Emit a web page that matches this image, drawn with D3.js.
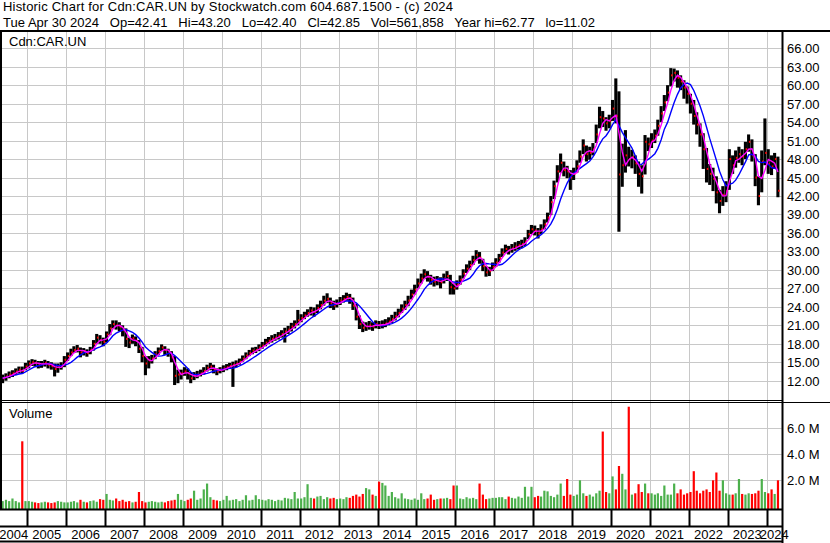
<!DOCTYPE html>
<html>
<head>
<meta charset="utf-8">
<script src="https://cdnjs.cloudflare.com/ajax/libs/d3/7.8.5/d3.min.js"></script>
<style>
  body { margin: 0; background: #fff; }
  svg text { font-family: "Liberation Sans", Arial, sans-serif; font-size: 13px; fill: #000; white-space: pre; }
</style>
</head>
<body>
<div id="chart"></div>
<script>
// frame
const WIDTH = 830, HEIGHT = 543;
const PRICE = {left: 0, right: 781.7, top: 31, bottom: 400};
const VOL = {top: 403, bottom: 509};

// monthly bars, May 2004 .. Apr 2024
const high = [
  13.0, 13.2, 13.5, 13.7, 14.0, 14.3, 14.3, 14.9,
  15.3, 15.5, 15.4, 15.2, 15.2, 15.4, 15.2, 15.0, 14.8, 14.8, 15.0, 16.0,
  16.6, 17.2, 17.6, 17.8, 17.4, 17.3, 17.1, 17.5, 18.6, 19.6, 19.4, 19.0,
  20.0, 21.2, 21.8, 21.8, 21.5, 21.0, 20.5, 19.0, 19.5, 19.2, 18.6, 17.5,
  16.0, 16.0, 16.2, 16.8, 17.4, 17.9, 17.6, 17.2, 16.8, 16.0, 13.8, 13.8,
  14.2, 14.0, 13.4, 13.4, 13.6, 13.8, 14.2, 14.6, 14.9, 14.6, 14.0, 14.2,
  14.5, 14.7, 14.9, 15.1, 15.3, 15.6, 16.1, 16.6, 17.0, 17.4, 17.5, 17.9,
  18.3, 18.8, 19.1, 19.4, 19.6, 19.9, 20.2, 20.6, 20.9, 21.4, 21.8, 23.5,
  22.8, 23.2, 23.6, 24.0, 23.9, 24.4, 25.0, 25.8, 26.2, 25.5, 25.0, 25.2,
  25.6, 25.9, 26.3, 26.1, 25.5, 24.5, 22.6, 21.6, 21.5, 21.7, 21.5, 21.8,
  21.7, 21.8, 22.0, 22.3, 22.7, 23.2, 23.7, 24.4, 25.0, 25.8, 26.8, 27.6,
  28.6, 29.4, 30.1, 29.8, 29.2, 28.9, 29.0, 28.8, 29.4, 29.8, 29.2, 27.8,
  28.3, 29.1, 30.1, 30.9, 31.5, 32.3, 33.2, 32.9, 31.8, 30.6, 30.5, 31.2,
  31.9, 32.6, 33.5, 34.1, 33.9, 34.2, 34.5, 34.7, 34.9, 35.3, 36.5, 37.3,
  37.2, 36.8, 37.4, 38.2, 39.3, 42.0, 44.5, 47.0, 48.9, 47.6, 46.9, 46.2,
  46.6, 47.8, 49.4, 51.2, 50.2, 50.0, 50.6, 53.6, 56.5, 55.8, 54.8, 55.2,
  57.6, 61.1, 59.0, 50.5, 52.7, 50.0, 49.5, 48.6, 47.6, 47.0, 51.9, 51.5,
  52.2, 52.8, 54.4, 56.6, 58.4, 60.0, 62.77, 62.7, 62.4, 61.6, 60.8, 59.8,
  58.6, 57.6, 55.6, 53.8, 52.2, 49.8, 47.2, 46.6, 45.2, 43.0, 43.6, 44.4,
  49.6, 48.6, 49.4, 50.0, 49.6, 50.8, 52.0, 51.2, 48.8, 45.2, 49.4, 54.6,
  49.6, 48.6, 49.0, 48.4
];
const low = [
  11.6, 12.0, 12.4, 12.6, 12.9, 13.2, 13.2, 13.7,
  14.0, 14.4, 14.3, 14.0, 14.1, 14.3, 14.0, 13.8, 12.7, 13.3, 13.8, 14.2,
  15.2, 16.0, 16.5, 16.6, 15.8, 16.1, 15.9, 16.3, 16.9, 18.0, 18.0, 17.6,
  18.2, 19.4, 20.5, 20.3, 20.0, 19.2, 17.5, 17.3, 18.0, 17.6, 16.5, 15.0,
  12.9, 14.0, 14.8, 15.5, 16.2, 16.8, 16.2, 15.9, 15.0, 11.3, 11.6, 12.2,
  12.8, 12.2, 11.6, 12.1, 12.4, 12.7, 13.0, 13.5, 13.7, 13.2, 12.9, 13.2,
  13.4, 13.7, 13.9, 11.0, 14.2, 14.6, 15.1, 15.5, 16.0, 16.3, 16.5, 16.8,
  17.2, 17.6, 18.0, 18.2, 18.5, 18.7, 19.0, 18.2, 19.6, 20.0, 20.5, 21.0,
  21.5, 22.0, 22.4, 22.6, 22.4, 23.0, 23.6, 24.2, 24.6, 23.8, 23.5, 23.9,
  24.3, 24.7, 25.0, 24.5, 23.5, 21.8, 20.4, 19.9, 20.1, 20.3, 20.1, 20.5,
  20.4, 20.5, 20.7, 21.0, 21.4, 21.8, 22.3, 23.0, 23.5, 24.1, 25.2, 26.0,
  27.0, 27.8, 28.5, 28.1, 27.6, 27.3, 27.5, 27.0, 27.8, 28.2, 26.0, 26.0,
  26.8, 27.6, 28.6, 29.5, 30.0, 30.8, 31.5, 31.0, 29.8, 28.9, 29.0, 29.8,
  30.5, 31.2, 32.1, 32.7, 32.5, 32.8, 33.1, 33.3, 33.5, 33.9, 35.0, 35.8,
  35.6, 35.1, 35.8, 36.6, 37.7, 38.9, 41.5, 44.2, 45.8, 45.2, 44.9, 43.0,
  44.6, 45.8, 47.4, 48.8, 47.6, 47.9, 48.6, 50.6, 53.0, 53.2, 52.6, 53.0,
  54.2, 53.8, 36.2, 43.5, 45.8, 46.8, 46.5, 45.6, 43.5, 42.4, 45.5, 49.3,
  49.8, 50.6, 51.8, 54.0, 55.8, 57.4, 59.8, 60.6, 59.6, 59.2, 57.8, 57.0,
  55.4, 53.6, 52.0, 50.0, 46.4, 44.2, 43.8, 42.8, 40.8, 39.2, 40.4, 41.0,
  43.0, 45.6, 46.6, 47.4, 47.0, 48.0, 49.2, 47.6, 43.6, 40.5, 42.6, 47.0,
  45.6, 45.4, 46.4, 41.8
];
const close = [
  12.4, 12.7, 13.0, 13.2, 13.5, 13.8, 13.6, 14.3,
  14.8, 15.0, 14.9, 14.6, 14.7, 14.9, 14.6, 14.4, 13.9, 14.2, 14.4, 15.4,
  16.0, 16.6, 17.0, 17.2, 16.6, 16.8, 16.5, 17.0, 18.0, 19.0, 18.6, 18.3,
  19.5, 20.5, 21.2, 21.0, 20.8, 20.2, 18.8, 18.2, 18.9, 18.5, 17.2, 16.0,
  14.8, 15.3, 15.6, 16.3, 16.8, 17.4, 17.0, 16.5, 15.8, 12.8, 13.0, 13.2,
  13.5, 13.2, 12.4, 12.8, 13.0, 13.2, 13.6, 14.1, 14.3, 13.8, 13.5, 13.8,
  14.0, 14.2, 14.4, 14.6, 14.8, 15.1, 15.6, 16.1, 16.5, 16.9, 17.0, 17.4,
  17.7, 18.2, 18.5, 18.8, 19.0, 19.3, 19.6, 20.0, 20.3, 20.8, 21.2, 21.8,
  22.2, 22.6, 23.0, 23.4, 23.2, 23.8, 24.3, 25.0, 25.3, 24.6, 24.2, 24.6,
  25.0, 25.3, 25.6, 25.4, 24.2, 22.4, 21.2, 20.6, 20.8, 21.0, 20.8, 21.2,
  21.0, 21.1, 21.3, 21.6, 22.0, 22.5, 23.0, 23.7, 24.3, 25.0, 26.0, 26.8,
  27.8, 28.6, 29.3, 28.9, 28.4, 28.1, 28.3, 28.0, 28.6, 29.0, 27.2, 27.0,
  27.6, 28.4, 29.4, 30.2, 30.8, 31.6, 32.4, 32.0, 30.6, 29.6, 29.8, 30.5,
  31.2, 31.9, 32.8, 33.4, 33.2, 33.5, 33.8, 34.0, 34.2, 34.6, 35.8, 36.6,
  36.4, 35.9, 36.6, 37.4, 38.5, 41.0, 43.6, 46.0, 47.4, 46.2, 46.0, 45.0,
  45.6, 46.8, 48.4, 50.2, 48.8, 49.0, 49.6, 52.0, 54.8, 54.6, 53.8, 54.2,
  56.2, 55.0, 45.5, 47.0, 48.6, 48.0, 48.3, 47.3, 45.6, 45.2, 50.8, 50.4,
  51.0, 51.8, 53.4, 55.4, 57.2, 58.8, 61.6, 62.0, 61.2, 60.6, 59.6, 58.6,
  57.0, 55.0, 53.6, 52.0, 49.6, 46.4, 45.6, 44.8, 42.6, 41.2, 42.2, 42.8,
  48.0, 47.0, 48.2, 48.8, 48.4, 49.6, 50.8, 48.6, 45.0, 42.0, 47.6, 49.0,
  47.2, 46.8, 48.0, 42.85
];
// volume in millions of shares
const volume = [
  0.4, 0.5, 0.4, 0.6, 0.4, 0.3, 5.0, 0.4,
  0.4, 0.35, 0.3, 0.25, 0.3, 0.35, 0.3, 0.25, 0.3, 0.4, 0.35, 0.3,
  0.3, 0.35, 0.4, 0.3, 0.5, 0.35, 0.3, 0.4, 0.45, 0.35, 0.55, 0.5,
  0.95, 0.5, 0.45, 0.6, 0.4, 0.5, 0.35, 0.4, 0.3, 0.35, 1.1, 0.4,
  0.3, 0.35, 0.4, 0.35, 0.3, 0.35, 0.3, 0.4, 0.45, 0.5, 0.95, 0.5,
  0.4, 0.5, 0.6, 1.2, 0.5, 0.6, 1.3, 1.75, 0.7, 0.5, 0.45, 0.4,
  0.5, 0.8, 0.45, 0.5, 0.55, 0.4, 0.5, 0.85, 0.45, 0.5, 0.85, 0.55,
  0.5, 0.45, 0.55, 0.5, 0.4, 0.5, 0.45, 0.65, 0.6, 0.55, 1.1, 0.6,
  0.6, 0.7, 1.7, 0.65, 0.6, 0.75, 0.8, 0.55, 0.7, 0.6, 0.65, 0.55,
  0.6, 0.55, 0.7, 0.65, 0.8, 0.9, 0.75, 0.95, 1.4, 1.3, 0.9, 0.8,
  1.9, 1.8, 1.6, 0.8, 1.1, 0.7, 0.6, 1.0, 0.6, 0.55, 0.5, 0.6,
  0.5, 1.0, 0.55, 0.6, 0.9, 0.5, 0.55, 0.6, 0.6, 0.65, 0.55, 1.6,
  1.6, 0.6, 0.55, 0.7, 0.6, 0.65, 0.55, 1.75, 0.9, 0.55, 0.6, 0.65,
  0.65, 0.7, 0.7, 0.55, 0.75, 0.65, 0.6, 0.75, 0.65, 1.5, 0.75, 1.5,
  0.7, 0.8, 0.75, 1.2, 1.15, 0.8, 0.7, 0.9, 1.75, 0.8, 2.1, 0.9,
  0.8, 0.9, 2.0, 1.0, 0.8, 0.9, 0.75, 1.0, 1.2, 5.75, 1.1, 1.0,
  2.3, 1.3, 3.1, 2.5, 1.3, 7.66, 0.9, 1.0, 1.7, 1.1, 1.75, 1.0,
  1.0, 0.9, 1.0, 0.8, 1.6, 0.9, 0.9, 1.75, 1.0, 1.3, 0.9, 1.0,
  1.1, 2.7, 1.2, 1.0, 1.2, 1.3, 1.1, 2.0, 2.6, 1.2, 2.0, 1.0,
  0.9, 0.9, 1.0, 2.1, 0.95, 0.9, 1.0, 0.95, 1.0, 1.2, 2.1, 1.1,
  1.0, 1.3, 0.95, 2.0
];

const priceTicks = [12, 15, 18, 21, 24, 27, 30, 33, 36, 39, 42, 45, 48, 51, 54, 57, 60, 63, 66];
const volTicks = [2, 4, 6];
const yearLabels = d3.range(2004, 2025);
const header1 = "Historic Chart for Cdn:CAR.UN by Stockwatch.com 604.687.1500 - (c) 2024";
const header2 = "Tue Apr 30 2024   Op=42.41   Hi=43.20   Lo=42.40   Cl=42.85   Vol=561,858   Year hi=62.77   lo=11.02";

const bars = close.map((c, i) => ({
  date: new Date(2004, 4 + i, 15),
  high: high[i], low: low[i], close: c, vol: volume[i],
  up: i == 0 ? true : c >= close[i - 1]
}));

// moving averages of the closes (short = magenta, long = blue)
function movingAvg(n) {
  return bars.map((d, i) => ({date: d.date, v: d3.mean(close.slice(Math.max(0, i - n + 1), i + 1))}));
}
const maShort = movingAvg(3);
const maLong = movingAvg(7);

// scales
const x = d3.scaleTime()
  .domain([new Date(2004, 3, 20), new Date(2024, 4, 20)])
  .range([PRICE.left, PRICE.right]);
const y = d3.scaleLinear().domain([8.87, 68.8]).range([PRICE.bottom, PRICE.top]);
const yv = d3.scaleLinear().domain([0, 8]).range([506.3, 402.3]);

const svg = d3.select('#chart').append('svg')
  .attr('width', WIDTH).attr('height', HEIGHT);

// header text, spread out to the width of the original's wider system font
function stretched(txt, ty, width) {
  const t = svg.append('text').attr('x', 3).attr('y', ty).text(txt);
  const w = t.node().getComputedTextLength();
  t.style('letter-spacing', ((width - w) / (txt.length - 1)) + 'px');
}
stretched(header1, 11, 450);
stretched(header2, 26.5, 592);

// grid
const yearLines = d3.timeYear.range(new Date(2005, 0, 1), new Date(2024, 0, 2));
const grid = svg.append('g').attr('stroke', '#c8c8c8').attr('stroke-width', 1);
grid.selectAll('.hp').data(priceTicks).join('line')
  .attr('x1', 0).attr('x2', PRICE.right)
  .attr('y1', d => Math.round(y(d)) + 0.5).attr('y2', d => Math.round(y(d)) + 0.5);
grid.selectAll('.hv').data(volTicks).join('line')
  .attr('x1', 0).attr('x2', PRICE.right)
  .attr('y1', d => Math.round(yv(d)) + 0.5).attr('y2', d => Math.round(yv(d)) + 0.5);
grid.selectAll('.vp').data(yearLines).join('line')
  .attr('x1', d => Math.round(x(d)) + 0.5).attr('x2', d => Math.round(x(d)) + 0.5)
  .attr('y1', PRICE.top).attr('y2', VOL.bottom);

// price bars (high-low in black, close tick in red)
svg.append('g').selectAll('rect').data(bars).join('rect')
  .attr('x', d => x(d.date) - 1.6).attr('width', 3.1)
  .attr('y', d => y(d.high)).attr('height', d => y(d.low) - y(d.high))
  .attr('fill', '#000');
svg.append('g').selectAll('rect').data(bars).join('rect')
  .attr('x', d => x(d.date) + 0.2).attr('width', 1.5)
  .attr('y', d => y(d.close) - 1).attr('height', 2)
  .attr('fill', '#ff0000');

// moving averages
const line = d3.line().x(d => x(d.date)).y(d => y(d.v));
svg.append('path').datum(maLong).attr('d', line)
  .attr('fill', 'none').attr('stroke', '#0000ff').attr('stroke-width', 1.4);
svg.append('path').datum(maShort).attr('d', line)
  .attr('fill', 'none').attr('stroke', '#ff00ff').attr('stroke-width', 1.4);

// volume bars
svg.append('g').selectAll('rect').data(bars).join('rect')
  .attr('x', d => x(d.date) - 1.1).attr('width', 2.2)
  .attr('y', d => yv(d.vol)).attr('height', d => VOL.bottom - yv(d.vol))
  .attr('fill', d => d.up ? '#4cb04c' : '#ff0000');

// frame lines
const frame = svg.append('g').attr('stroke', '#000');
frame.append('line').attr('x1', 0).attr('x2', WIDTH).attr('y1', 31).attr('y2', 31).attr('stroke-width', 2);
frame.append('line').attr('x1', 1).attr('x2', 1).attr('y1', 31).attr('y2', VOL.bottom).attr('stroke-width', 2);
frame.append('line').attr('x1', 782.5).attr('x2', 782.5).attr('y1', 31).attr('y2', HEIGHT).attr('stroke-width', 2);
frame.append('line').attr('x1', 0).attr('x2', 782).attr('y1', 400.5).attr('y2', 400.5);
frame.append('line').attr('x1', 0).attr('x2', WIDTH).attr('y1', 402.5).attr('y2', 402.5);
frame.append('line').attr('x1', 0).attr('x2', 782).attr('y1', 509.5).attr('y2', 509.5).attr('stroke-width', 2);
frame.append('line').attr('x1', 0).attr('x2', 782).attr('y1', 526.5).attr('y2', 526.5).attr('stroke-width', 2);
frame.append('line').attr('x1', 0).attr('x2', 782).attr('y1', 541.5).attr('y2', 541.5).attr('stroke-width', 2);
frame.selectAll('.yl').data(yearLines).join('line')
  .attr('x1', d => Math.round(x(d)) + 0.5).attr('x2', d => Math.round(x(d)) + 0.5)
  .attr('y1', 510).attr('y2', 526).attr('stroke-width', 2);

// axis labels
svg.selectAll('.pl').data(priceTicks).join('text')
  .attr('x', 787).attr('y', d => y(d) + 5).text(d => d.toFixed(2));
svg.selectAll('.vl').data(volTicks).join('text')
  .attr('x', 787).attr('y', d => yv(d) + 5).text(d => d.toFixed(1) + ' M');

// year labels, centred in each year's slot
svg.selectAll('.yr').data(yearLabels).join('text')
  .attr('text-anchor', 'middle')
  .attr('x', d => {
    const a = Math.max(0, x(new Date(d, 0, 1)));
    const b = Math.min(PRICE.right, x(new Date(d + 1, 0, 1)));
    return (a + b) / 2;
  })
  .attr('y', 539)
  .text(d => d);

// panel titles
svg.append('text').attr('x', 9).attr('y', 46).text('Cdn:CAR.UN');
svg.append('text').attr('x', 9).attr('y', 417.5).text('Volume');
</script>
</body>
</html>
